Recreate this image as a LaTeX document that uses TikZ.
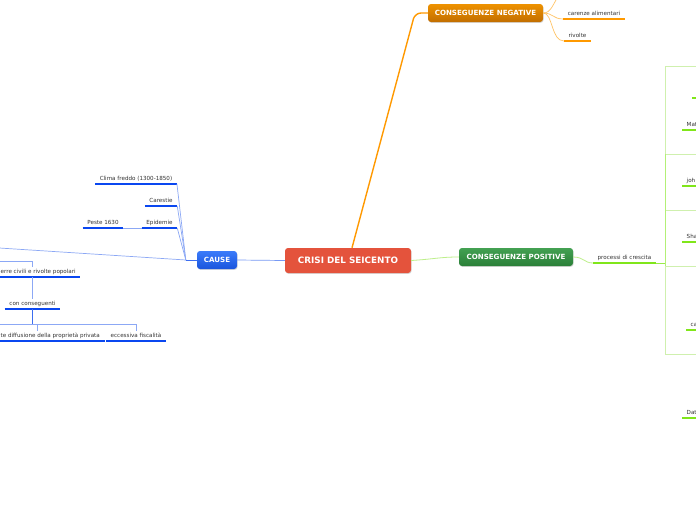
\documentclass[tikz,border=0pt]{standalone}
\usepackage{fontspec}
\setmainfont{DejaVu Sans}
\usepackage{xcolor}
\usepackage{tikz}
\usetikzlibrary{arrows.meta,positioning,shadows,calc}

\definecolor{crisired}{HTML}{E4533C}
\definecolor{causetop}{HTML}{3B7BFA}
\definecolor{causebot}{HTML}{1A55DD}
\definecolor{negtop}{HTML}{EE9200}
\definecolor{negbot}{HTML}{C26E00}
\definecolor{postop}{HTML}{43A152}
\definecolor{posbot}{HTML}{2A7F38}
\definecolor{causebar}{HTML}{0A47F0}
\definecolor{causeline}{HTML}{8CA8F5}
\definecolor{causemain}{HTML}{3D6EF0}
\definecolor{negbar}{HTML}{FF9900}
\definecolor{negline}{HTML}{FFC466}
\definecolor{posbar}{HTML}{80E61A}
\definecolor{posline}{HTML}{BDEF8A}
\definecolor{posframe}{HTML}{CFF0AE}

\tikzset{
  main box/.style   = {rounded corners=3pt, minimum height=18pt, inner xsep=6pt,
                        font=\fontsize{7.1}{8}\selectfont\bfseries, text=white,
                        align=center,
                        drop shadow={shadow xshift=0.6pt, shadow yshift=-0.9pt,
                                     opacity=0.3}},
  root box/.style   = {main box, fill=crisired, minimum width=126pt,
                        minimum height=25pt, font=\fontsize{8.8}{10}\selectfont\bfseries},
  cause box/.style  = {main box, top color=causetop, bottom color=causebot,
                        minimum width=40pt},
  neg box/.style    = {main box, top color=negtop, bottom color=negbot,
                        minimum width=115pt},
  pos box/.style    = {main box, top color=postop, bottom color=posbot,
                        minimum width=114pt},
  leaf/.style       = {font=\fontsize{5.6}{6.5}\selectfont, text=black!80,
                        inner xsep=4.5pt, inner ysep=2.2pt, text height=4.2pt,
                        text depth=1.2pt, anchor=south},
  bar/.style        = {append after command={(\tikzlastnode.south west)
                        edge[line width=2.2pt, draw=#1] (\tikzlastnode.south east)}},
  cause leaf/.style = {leaf, bar=causebar},
  neg leaf/.style   = {leaf, bar=negbar},
  pos leaf/.style   = {leaf, bar=posbar},
  cause link/.style = {draw=causeline, line width=0.7pt},
  cause main/.style = {draw=causemain, line width=0.8pt},
  neg link/.style   = {draw=negline, line width=0.7pt},
  neg main/.style   = {draw=negbar, line width=1.4pt, rounded corners=6pt},
  pos link/.style   = {draw=posline, line width=0.8pt},
  frame/.style      = {draw=posframe, line width=0.8pt},
}

\begin{document}
\begin{tikzpicture}[x=1pt, y=-1pt]
  \useasboundingbox[fill=white] (0,0) rectangle (696,520);

  %% --- main nodes ------------------------------------------------
  \node[root box]  (crisi) at (348,260.5) {CRISI DEL SEICENTO};
  \node[cause box] (cause) at (217,260)   {CAUSE};
  \node[neg box]   (neg)   at (485.5,13)  {CONSEGUENZE NEGATIVE};
  \node[pos box]   (pos)   at (516,257)   {CONSEGUENZE POSITIVE};

  \draw[neg main] ($(crisi.north)+(4,0)$) -- (415,13) -- (neg.west);
  \draw[pos link] (crisi.east) .. controls (435,259) and (440,257) .. (pos.west);
  \draw[cause link, draw=causemain!70] (crisi.west) -- (cause.east);
  \draw[cause main] (cause.west) -- ++(-11,0) coordinate (hub);

  %% --- cause -----------------------------------------------------
  \node[cause leaf] (clima)    at (136,184)   {Clima freddo (1300-1850)};
  \node[cause leaf] (carestie) at (161,206)   {Carestie};
  \node[cause leaf] (epidemie) at (159.5,228) {Epidemie};
  \node[cause leaf] (peste)    at (103,228)   {Peste 1630};
  \foreach \n in {clima,carestie,epidemie}
    \draw[cause link] (hub) -- (\n.south east);
  \draw[cause link] (epidemie.south west) -- (peste.south east);
  \coordinate (offleft) at (-10,247.4);
  \draw[cause link] (hub) -- (offleft);

  \node[cause leaf, anchor=south west] (guerre) at (-4,277)
    {erre civili e rivolte popolari};
  \node[cause leaf] (cons) at (32.5,309) {con conseguenti};
  \coordinate (guerretop) at (-10,261);
  \draw[cause link] (guerretop) -| (guerre.north -| cons.north);
  \draw[cause link] (guerre.south -| cons.north) -- (cons.north);

  \node[cause leaf, anchor=south west] (diffus) at (-4,341)
    {te diffusione della proprietà privata};
  \node[cause leaf] (fisco) at (136,341) {eccessiva fiscalità};
  \draw[cause main] (cons.south) -- ++(0,15) coordinate (split);
  \coordinate (splitleft) at (-10,324);
  \coordinate (difftick) at (37,324);
  \draw[cause link] (splitleft) -| (fisco.north);
  \draw[cause link] (difftick) -- (difftick |- diffus.north);

  %% --- conseguenze negative --------------------------------------
  \node[neg leaf] (carenze) at (594,19)   {carenze alimentari};
  \node[neg leaf] (rivolte) at (577.5,41) {rivolte};
  \coordinate (negup) at (559,-5);
  \draw[neg link] (neg.east) .. controls (551,13) and (553,4) .. (negup);
  \draw[neg link] (neg.east) .. controls (553,13) and (553,19) .. (carenze.south west);
  \draw[neg link] (neg.east) .. controls (553,13) and (551,41) .. (rivolte.south west);

  %% --- conseguenze positive --------------------------------------
  \node[pos leaf] (processi) at (624.5,263) {processi di crescita};
  \draw[pos link] (pos.east) .. controls (584,257) and (584,263) .. (processi.south west);
  \foreach \a/\b in {66/154,154/210,210/266,266/354}
    \draw[frame] (665,\a) rectangle (720,\b);
  \coordinate (fork) at (665,263);
  \draw[pos link, draw=posbar!80] (processi.south east) -- (fork);
  \draw[pos link, draw=posbar!60] (665,154) -- (665,266);

  \node[pos leaf, anchor=south west] (blank) at (692,98)  {};
  \node[pos leaf, anchor=south west] (mat)   at (682,130) {Mat};
  \node[pos leaf, anchor=south west] (joh)   at (682,186) {joh};
  \node[pos leaf, anchor=south west] (sha)   at (682,242) {Sha};
  \node[pos leaf, anchor=south west] (ca)    at (686,330) {ca};
  \node[pos leaf, anchor=south west] (dat)   at (682,418) {Dat};
\end{tikzpicture}
\end{document}
